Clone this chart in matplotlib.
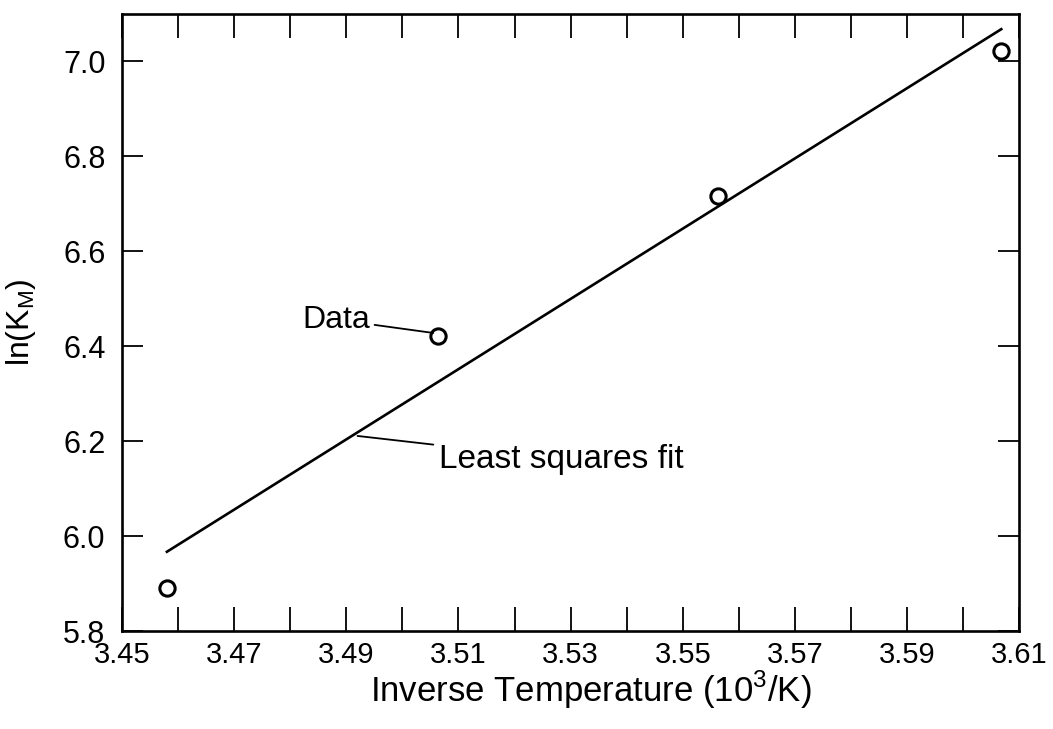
import numpy as np
import matplotlib
matplotlib.use("Agg")
import matplotlib.pyplot as plt

plt.rcParams['font.family'] = ['Liberation Sans', 'DejaVu Sans']
plt.rcParams['mathtext.fontset'] = 'custom'
plt.rcParams['mathtext.rm'] = 'Liberation Sans'

# data
inv_temp = [3.4580, 3.5063, 3.5563, 3.6068]
ln_km = [5.891, 6.421, 6.716, 7.021]

# least squares line endpoints
fit_x = [3.4580, 3.6068]
fit_y = [5.967, 7.068]

x_ticks = np.round(np.arange(3.45, 3.6101, 0.01), 2)
x_labels = ["%.2f" % v if i % 2 == 0 else "" for i, v in enumerate(x_ticks)]
y_ticks = [5.8, 6.0, 6.2, 6.4, 6.6, 6.8, 7.0]

fig = plt.figure(figsize=(10.53, 7.29), dpi=100)
ax = fig.add_axes([0.1159, 0.1344, 0.852, 0.8464])

ax.plot(fit_x, fit_y, color='black', linewidth=1.9)
ax.plot(inv_temp, ln_km, linestyle='none', marker='o', markersize=11,
        markerfacecolor='white', markeredgecolor='black', markeredgewidth=2.2,
        clip_on=False, zorder=3)

# annotations
ax.annotate("Data", xy=(3.5055, 6.428), xytext=(3.4943, 6.456),
            fontsize=23, ha='right', va='center',
            arrowprops=dict(arrowstyle='-', color='black', linewidth=1.3,
                            shrinkA=1, shrinkB=0))
ax.annotate("Least squares fit", xy=(3.4920, 6.211), xytext=(3.5065, 6.162),
            fontsize=24, ha='left', va='center',
            arrowprops=dict(arrowstyle='-', color='black', linewidth=1.3,
                            shrinkA=2, shrinkB=0))

ax.set_xlim(3.45, 3.61)
ax.set_ylim(5.8, 7.1)
ax.tick_params(axis='both', direction='in', top=True, right=True,
               length=15, width=1.3)
ax.tick_params(axis='x', length=17, pad=7, labelsize=21)
ax.tick_params(axis='y', pad=12, labelsize=22)
ax.set_xticks(x_ticks)
ax.set_xticklabels(x_labels)
ax.set_yticks(y_ticks)
ax.set_yticklabels(["%.1f" % v for v in y_ticks])
for s in ax.spines.values():
    s.set_linewidth(1.9)

ax.set_xlabel(r"Inverse Temperature (10$^{\mathregular{3}}$/K)", fontsize=25)
ax.set_ylabel(r"ln(K$_{\mathregular{M}}$)", fontsize=23)
ax.xaxis.set_label_coords(0.522, -0.062)
ax.yaxis.set_label_coords(-0.094, 0.5)

plt.savefig("out.png", dpi=100)
